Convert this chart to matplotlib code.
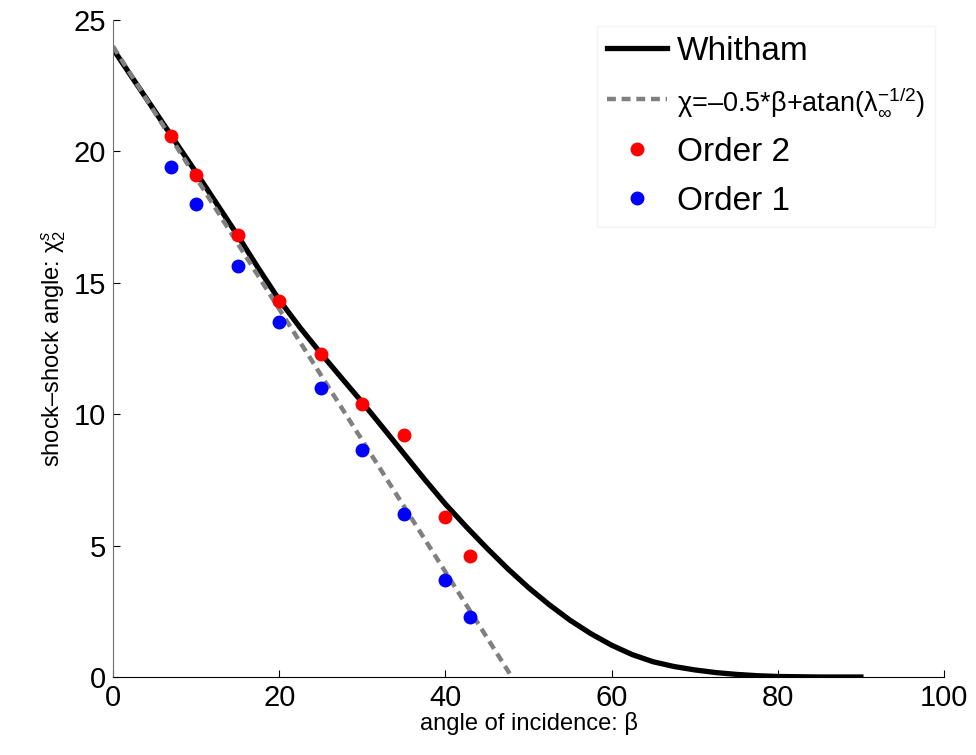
import matplotlib
matplotlib.use("Agg")
import matplotlib.pyplot as plt

plt.rcParams["font.family"] = ["Liberation Sans", "DejaVu Sans"]
plt.rcParams["mathtext.fontset"] = "custom"
plt.rcParams["mathtext.rm"] = "Liberation Sans"
plt.rcParams["mathtext.it"] = "Liberation Sans:italic"
plt.rcParams["mathtext.sf"] = "Liberation Sans"

# Whitham curve
whitham_beta = [0, 2.5, 5, 7.5, 10, 12.5, 15, 17.5, 20, 22.5, 25, 27.5, 30,
                32.5, 35, 37.5, 40, 42.5, 45, 47.5, 50, 52.5, 55, 57.5, 60,
                62.5, 65, 67.5, 70, 72.5, 75, 77.5, 80, 85, 90]
whitham_chi = [23.9, 22.72, 21.55, 20.37, 19.2, 18.0, 16.8, 15.55, 14.35,
               13.3, 12.32, 11.38, 10.45, 9.48, 8.5, 7.52, 6.58, 5.72, 4.9,
               4.12, 3.4, 2.75, 2.16, 1.65, 1.21, 0.85, 0.58, 0.4, 0.27, 0.17,
               0.1, 0.05, 0.02, 0.0, 0.0]

# linear estimate chi = -0.5*beta + atan(lambda^-1/2)
lin_beta = [0, 48]
lin_chi = [24.0, 0.0]

beta_pts = [7, 10, 15, 20, 25, 30, 35, 40, 43]
order2 = [20.6, 19.1, 16.8, 14.3, 12.3, 10.4, 9.2, 6.1, 4.6]
order1 = [19.4, 18.0, 15.65, 13.5, 11.0, 8.65, 6.2, 3.7, 2.3]

fig = plt.figure(figsize=(9.76, 7.55), dpi=100)
ax = fig.add_axes([113 / 976, 78 / 755, (944 - 113) / 976, (677 - 20) / 755])

ax.plot(whitham_beta, whitham_chi, color="black", lw=3.8, label="Whitham",
        solid_joinstyle="round")
ax.plot(lin_beta, lin_chi, "--", color="#808080", lw=3.2, dashes=(2.0, 1.3),
        label=r"χ=–0.5*β+atan($\mathrm{\lambda}_{\infty}^{-1/2}$)")
ax.plot(beta_pts, order2, "o", color="red", ms=9, mec="red", label="Order 2")
ax.plot(beta_pts, order1, "o", color="blue", ms=9, mec="blue", label="Order 1")

ax.set_xlim(0, 100)
ax.set_ylim(0, 25)
ax.set_xticks([0, 20, 40, 60, 80, 100])
ax.set_yticks([0, 5, 10, 15, 20, 25])
ax.tick_params(direction="in", length=5, labelsize=21, pad=5)
for s in ["top", "right"]:
    ax.spines[s].set_visible(False)
ax.spines["left"].set_color("#707070")
ax.spines["bottom"].set_color("black")

ax.set_xlabel("angle of incidence: β", fontsize=17, labelpad=0)
ax.set_ylabel(r"shock–shock angle: $\mathrm{\chi}_2^s$", fontsize=17, labelpad=4)

leg = ax.legend(loc="upper right", bbox_to_anchor=(935 / 976, 1 - 26 / 755),
                bbox_transform=fig.transFigure, borderaxespad=0, fontsize=24,
                frameon=True, fancybox=False, edgecolor="#f2f2f2",
                handlelength=1.8, handletextpad=0.3, labelspacing=0.55,
                borderpad=0.3)
leg.get_texts()[1].set_fontsize(19.5)

fig.savefig("out.png", dpi=100)
